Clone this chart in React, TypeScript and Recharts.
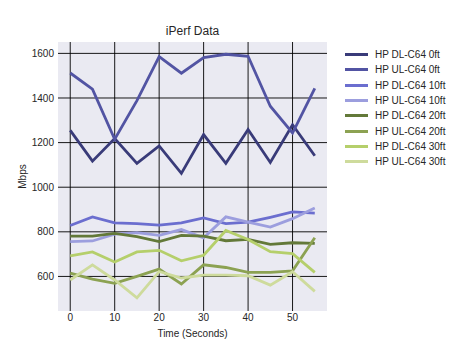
import React from 'react';
import { LineChart, Line, XAxis, YAxis, CartesianGrid, Legend } from 'recharts';

const times = [0, 5, 10, 15, 20, 25, 30, 35, 40, 45, 50, 55];

const dl0 = [1255, 1117, 1218, 1107, 1185, 1062, 1236, 1107, 1259, 1111, 1280, 1141];
const ul0 = [1512, 1440, 1215, 1388, 1585, 1511, 1581, 1596, 1587, 1363, 1243, 1443];
const dl10 = [828, 867, 840, 837, 830, 840, 862, 837, 843, 865, 889, 884];
const ul10 = [756, 759, 790, 796, 784, 810, 773, 867, 843, 821, 859, 907];
const dl20 = [781, 781, 793, 778, 756, 784, 781, 760, 766, 744, 751, 748];
const ul20 = [615, 588, 569, 600, 633, 566, 652, 640, 618, 618, 625, 773];
const dl30 = [692, 710, 665, 710, 717, 670, 695, 806, 766, 711, 702, 618];
const ul30 = [584, 652, 584, 504, 622, 593, 606, 606, 603, 561, 621, 533];

const xTicks = [0, 10, 20, 30, 40, 50];
const yTicks = [600, 800, 1000, 1200, 1400, 1600];

const series = [
  { key: 'dl0', name: 'HP DL-C64 0ft', values: dl0, color: '#393b79' },
  { key: 'ul0', name: 'HP UL-C64 0ft', values: ul0, color: '#5254a3' },
  { key: 'dl10', name: 'HP DL-C64 10ft', values: dl10, color: '#6b6ecf' },
  { key: 'ul10', name: 'HP UL-C64 10ft', values: ul10, color: '#9c9ede' },
  { key: 'dl20', name: 'HP DL-C64 20ft', values: dl20, color: '#637939' },
  { key: 'ul20', name: 'HP UL-C64 20ft', values: ul20, color: '#8ca252' },
  { key: 'dl30', name: 'HP DL-C64 30ft', values: dl30, color: '#b5cf6b' },
  { key: 'ul30', name: 'HP UL-C64 30ft', values: ul30, color: '#cedb9c' },
];

const data = times.map((t, i) => {
  const row: any = { time: t };
  series.forEach(s => { row[s.key] = s.values[i]; });
  return row;
});

const FONT = '"Liberation Sans", Arial, sans-serif';
const TEXT = '#262626';

const renderLegend = () => (
  <div style={{ fontFamily: FONT, fontSize: 10, color: TEXT }}>
    {series.map(s => (
      <div key={s.key} style={{ display: 'flex', alignItems: 'center', height: 15.33 }}>
        <div style={{ width: 23, height: 3, background: s.color, marginRight: 7 }} />
        <span>{s.name}</span>
      </div>
    ))}
  </div>
);

const App: React.FC = () => {
  return (
    <div style={{ position: 'absolute', left: 0, top: 0, width: 469, height: 352, background: '#fff', fontFamily: FONT }}>
      <div style={{ position: 'absolute', left: 58, width: 269, top: 24, textAlign: 'center', fontSize: 12, color: TEXT, lineHeight: '14px' }}>
        iPerf Data
      </div>
      <LineChart width={469} height={352} data={data} margin={{ top: 42, right: 22, bottom: 11, left: 18 }}>
        <CartesianGrid fill="#EAEAF2" stroke="#000" strokeOpacity={0.9} horizontalValues={yTicks} verticalValues={xTicks} />
        <XAxis
          dataKey="time"
          type="number"
          domain={[-2.75, 57.75]}
          ticks={xTicks}
          allowDataOverflow
          axisLine={false}
          tickLine={false}
          tickSize={0}
          tickMargin={3}
          height={30}
          tick={{ fontSize: 10, fill: TEXT, fontFamily: FONT }}
          label={{
            content: () => (
              <text x={192.5} y={333} textAnchor="middle" dominantBaseline="central" fontSize={10} fill={TEXT} fontFamily={FONT}>
                Time (Seconds)
              </text>
            ),
          }}
        />
        <YAxis
          type="number"
          domain={[445, 1651]}
          ticks={yTicks}
          allowDataOverflow
          axisLine={false}
          tickLine={false}
          tickSize={0}
          tickMargin={4}
          width={40}
          tick={{ fontSize: 10, fill: TEXT, fontFamily: FONT }}
          label={{
            content: () => (
              <text x={22} y={176.5} transform="rotate(-90 22 176.5)" textAnchor="middle" dominantBaseline="central" fontSize={10} fill={TEXT} fontFamily={FONT}>
                Mbps
              </text>
            ),
          }}
        />
        <Legend
          content={renderLegend}
          layout="vertical"
          verticalAlign="top"
          align="right"
          wrapperStyle={{ left: 345, top: 47, width: 120 }}
        />
        {series.map(s => (
          <Line
            key={s.key}
            dataKey={s.key}
            name={s.name}
            stroke={s.color}
            strokeWidth={2.8}
            dot={false}
            activeDot={false}
            type="linear"
            isAnimationActive={false}
          />
        ))}
      </LineChart>
    </div>
  );
};

export default App;
